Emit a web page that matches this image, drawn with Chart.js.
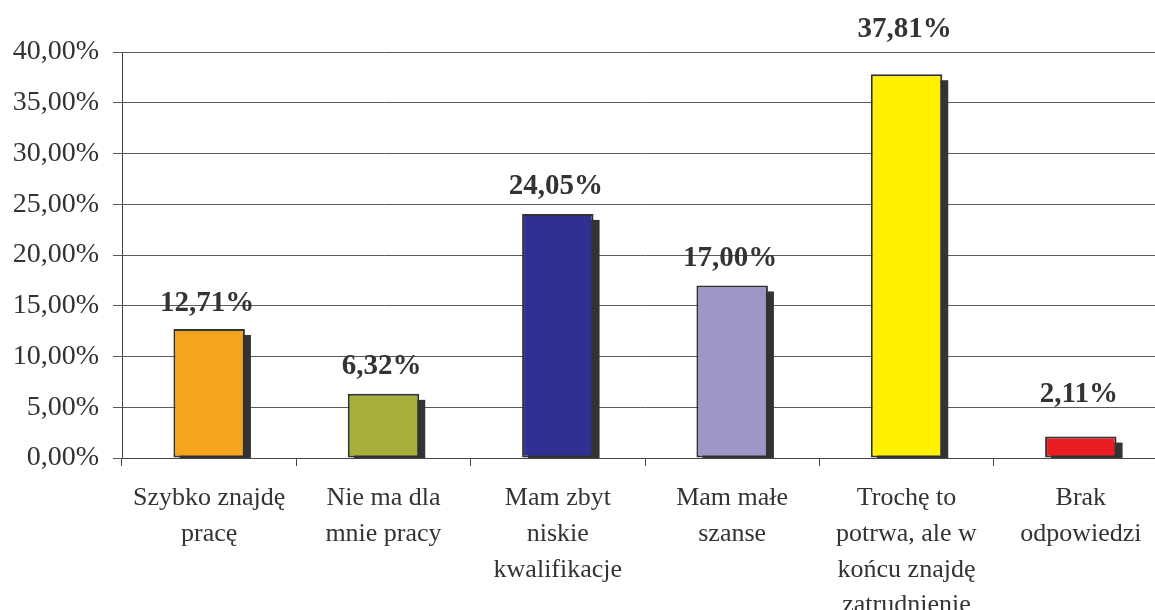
<!DOCTYPE html>
<html>
<head>
<meta charset="utf-8">
<script src="https://cdn.jsdelivr.net/npm/chart.js@4/dist/chart.umd.min.js"></script>
<style>
  html, body { margin: 0; padding: 0; background: #fff; overflow: hidden; }
  #wrap { width: 1155px; height: 610px; overflow: hidden; }
</style>
</head>
<body>
<div id="wrap"><canvas id="c" width="1170" height="610"></canvas></div>
<script>
const categories = [
  ['Szybko znajdę', 'pracę'],
  ['Nie ma dla', 'mnie pracy'],
  ['Mam zbyt', 'niskie', 'kwalifikacje'],
  ['Mam małe', 'szanse'],
  ['Trochę to', 'potrwa, ale w', 'końcu znajdę', 'zatrudnienie'],
  ['Brak', 'odpowiedzi']
];
const values = [12.71, 6.32, 24.05, 17.00, 37.81, 2.11];
const barColors = ['#F6A31E', '#A7AF3A', '#2E3192', '#9D97C8', '#FFF100', '#EC1C24'];
const yTicks = [0, 5, 10, 15, 20, 25, 30, 35, 40];

const fmt = v => v.toFixed(2).replace('.', ',') + '%';

// cień pod słupkami (prawy dół)
const shadowPlugin = {
  id: 'barShadow',
  beforeDatasetsDraw(chart) {
    const ctx = chart.ctx;
    const meta = chart.getDatasetMeta(0);
    const bottom = chart.scales.y.getPixelForValue(0);
    ctx.save();
    ctx.fillStyle = '#333336';
    meta.data.forEach(bar => {
      const w = bar.width;
      ctx.fillRect(bar.x - w / 2 + 6, bar.y + 6, w, bottom - bar.y - 6);
    });
    ctx.restore();
  }
};

// etykiety wartości nad słupkami (część etykiet przesunięta ręcznie jak w oryginale)
const labelPlugin = {
  id: 'valueLabels',
  afterDatasetsDraw(chart, args, opts) {
    const ctx = chart.ctx;
    const meta = chart.getDatasetMeta(0);
    ctx.save();
    ctx.font = 'bold 29px "Liberation Serif", "Times New Roman", serif';
    ctx.fillStyle = '#333333';
    ctx.textAlign = 'center';
    ctx.textBaseline = 'middle';
    meta.data.forEach((bar, i) => {
      const off = (opts.gaps && opts.gaps[i]) || 27;
      ctx.fillText(fmt(values[i]), bar.x - 2, bar.y - off);
    });
    ctx.restore();
  }
};

new Chart(document.getElementById('c'), {
  type: 'bar',
  data: {
    labels: categories,
    datasets: [{
      data: values,
      backgroundColor: barColors,
      borderColor: '#333333',
      borderWidth: 2,
      borderSkipped: false,
      barPercentage: 1,
      categoryPercentage: 0.41
    }]
  },
  options: {
    responsive: false,
    animation: false,
    devicePixelRatio: 1,
    layout: { padding: { top: 52, right: 2, left: 0, bottom: 0 } },
    plugins: {
      legend: { display: false },
      tooltip: { enabled: false },
      valueLabels: { gaps: [25, 27, 27, 27, 45, 42] }
    },
    scales: {
      x: {
        afterFit: s => { s.height = 152; },
        grid: { drawOnChartArea: false, drawTicks: true, tickLength: 8, color: '#444' },
        border: { color: '#444', width: 1 },
        ticks: {
          color: '#333',
          maxRotation: 0,
          autoSkip: false,
          padding: 14,
          font: { family: '"Liberation Serif", "Times New Roman", serif', size: 26, lineHeight: 1.38 }
        }
      },
      y: {
        min: 0,
        max: 40,
        afterFit: s => { s.width = 122; },
        afterBuildTicks: s => { s.ticks = yTicks.map(v => ({ value: v })); },
        grid: { color: '#5a5a5a', tickLength: 9, lineWidth: 1 },
        border: { color: '#444', width: 1 },
        ticks: {
          color: '#333',
          padding: 14,
          callback: v => fmt(v),
          font: { family: '"Liberation Serif", "Times New Roman", serif', size: 28 }
        }
      }
    }
  },
  plugins: [shadowPlugin, labelPlugin]
});
</script>
</body>
</html>
